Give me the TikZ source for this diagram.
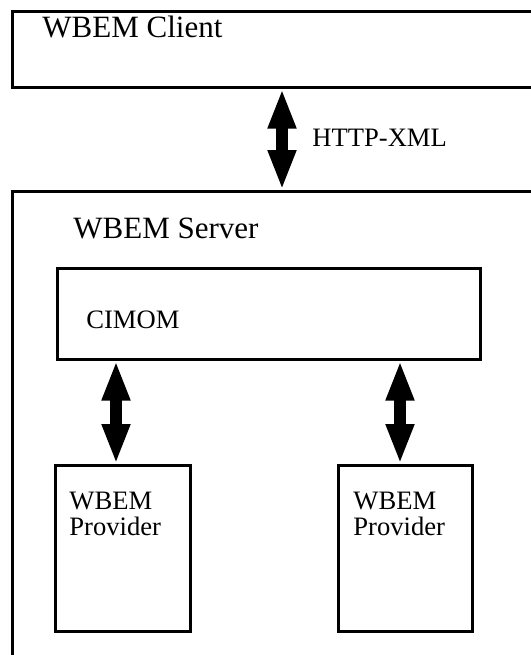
\documentclass[tikz,border=0pt]{standalone}
\usepackage{fontspec}
\setmainfont{Liberation Serif}
\usetikzlibrary{arrows.meta}
\begin{document}
\begin{tikzpicture}[x=0.5pt,y=-0.5pt,
  box/.style={draw, line width=1.3pt, rectangle, inner sep=0pt, anchor=north west},
  bigtxt/.style={inner sep=0pt, anchor=base west, font=\fontsize{15.5pt}{18pt}\selectfont},
  smalltxt/.style={inner sep=0pt, anchor=base west, font=\fontsize{13.3pt}{13pt}\selectfont},
  dblarrow/.style={line width=6pt, {Triangle[length=20pt,width=13pt]}-{Triangle[length=20pt,width=13pt]}}]
\clip (0,0) rectangle (531,655);
\fill[white] (0,0) rectangle (531,655);
% boxes
\node[box, minimum width=274.5pt, minimum height=38pt] (client) at (11,10) {};
\node[box, minimum width=300pt, minimum height=250pt] (server) at (11,190) {};
\node[box, minimum width=211.5pt, minimum height=45.5pt] (cimom) at (56,267) {};
\node[box, minimum width=67.5pt, minimum height=83pt] (prov1) at (54,464) {};
\node[box, minimum width=67pt, minimum height=83pt] (prov2) at (337,464) {};
% texts
\node[bigtxt] (tclient) at (42,37) {WBEM Client};
\node[smalltxt] (thttp) at (312,146) {HTTP-XML};
\node[bigtxt] (tserver) at (73,238) {WBEM Server};
\node[smalltxt] (tcimom) at (86,328) {CIMOM};
\node[smalltxt, align=left] (tp1) at (69,535) {WBEM\\Provider};
\node[smalltxt, align=left] (tp2) at (353,535) {WBEM\\Provider};
% arrows
\coordinate (ha) at (282,0);
\coordinate (la) at (116,0);
\coordinate (ra) at (400,0);
\draw[dblarrow] (client.south -| ha) -- (server.north -| ha);
\draw[dblarrow] (cimom.south -| la) -- (prov1.north -| la);
\draw[dblarrow] (cimom.south -| ra) -- (prov2.north -| ra);
\end{tikzpicture}
\end{document}
